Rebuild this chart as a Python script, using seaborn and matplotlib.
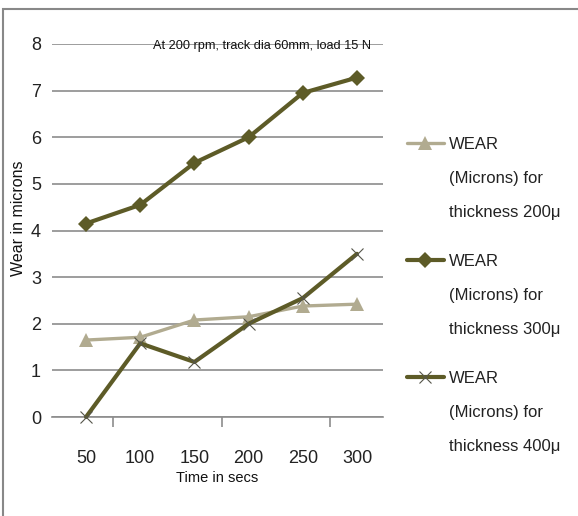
import matplotlib
matplotlib.use("Agg")
import matplotlib.pyplot as plt
import seaborn as sns
import pandas as pd
from matplotlib.patches import Rectangle
from matplotlib.ticker import FixedLocator, NullFormatter

time_secs = [50, 100, 150, 200, 250, 300]
wear_200 = [1.65, 1.71, 2.08, 2.15, 2.38, 2.42]
wear_300 = [4.15, 4.55, 5.45, 6.0, 6.95, 7.28]
wear_400 = [0.0, 1.58, 1.18, 2.0, 2.55, 3.5]
series_labels = [
    "WEAR\n(Microns) for\nthickness 200\u03bc",
    "WEAR\n(Microns) for\nthickness 300\u03bc",
    "WEAR\n(Microns) for\nthickness 400\u03bc",
]
title_text = "At 200 rpm, track dia 60mm, load 15 N"

sns.set_theme(style="white")
plt.rcParams["font.family"] = ["Liberation Sans", "DejaVu Sans"]

light = "#b1ab90"
dark = "#5d5b27"

fig = plt.figure(figsize=(5.78, 5.16), dpi=100)
ax = fig.add_axes([52 / 578, 1 - 417 / 516, (383 - 52) / 578, (417 - 44) / 516])

styles = [
    dict(y=wear_200, color=light, marker="^", ms=10, lw=2.4, mew=0),
    dict(y=wear_300, color=dark, marker="D", ms=8, lw=3.0, mew=0),
    dict(y=wear_400, color=dark, marker="x", ms=8, lw=3.0, mew=0.8),
]
for st, lab in zip(styles, series_labels):
    df = pd.DataFrame({"time": time_secs, "wear": st["y"]})
    sns.lineplot(data=df, x="time", y="wear", ax=ax, color=st["color"],
                 linewidth=st["lw"], marker=st["marker"], markersize=st["ms"],
                 markeredgewidth=st["mew"],
                 markeredgecolor="#55554a" if st["marker"] == "x" else st["color"],
                 label=lab, clip_on=False, zorder=3)

ax.set_xlim(18.6, 324)
ax.set_ylim(0, 8)
ax.set_yticks(range(0, 9))
ax.yaxis.grid(True, color="#8c8c8c", linewidth=1.2)
ax.xaxis.grid(False)
for side in ["left", "right", "top"]:
    ax.spines[side].set_visible(False)
ax.spines["bottom"].set_color("#8c8c8c")
ax.spines["bottom"].set_linewidth(1.2)

ax.set_xticks(time_secs)
ax.set_xticklabels([str(t) for t in time_secs])
ax.xaxis.set_minor_locator(FixedLocator([75, 175, 275]))
ax.xaxis.set_minor_formatter(NullFormatter())
ax.tick_params(axis="x", which="major", length=0, pad=24, labelsize=13, colors="#222222")
ax.tick_params(axis="x", which="minor", length=7, width=1.2, color="#8c8c8c", bottom=True)
ax.tick_params(axis="y", length=0, pad=8, labelsize=13, colors="#222222")

ax.set_xlabel("Time in secs", fontsize=10.5, color="#111111")
ax.xaxis.set_label_coords(0.5, -(471 - 417) / 373)
ax.set_ylabel("Wear in microns", fontsize=11.5, color="#111111")
ax.yaxis.set_label_coords(-(52 - 26) / 331, (417 - 218) / 373)

fig.text(262 / 578, 1 - 46 / 516, title_text, ha="center", va="center",
         fontsize=9.2, color="#111111")

leg = ax.legend(loc="upper left", bbox_to_anchor=(407 / 578, 1 - 137 / 516),
                bbox_transform=fig.transFigure, frameon=False, fontsize=12,
                handlelength=2.2, handletextpad=0.3, labelspacing=2.05,
                borderpad=0, borderaxespad=0)
for t in leg.get_texts():
    t.set_linespacing(2.58)
    t.set_color("#222222")
for col in leg._legend_handle_box.get_children():
    for row in col.get_children():
        row.align = "top"

fig.patches.append(Rectangle((3 / 578, -0.1), 1.2, 1.1 - 9 / 516, transform=fig.transFigure,
                             fill=False, edgecolor="#888888", linewidth=1.5))

fig.savefig("out.png", dpi=100)
